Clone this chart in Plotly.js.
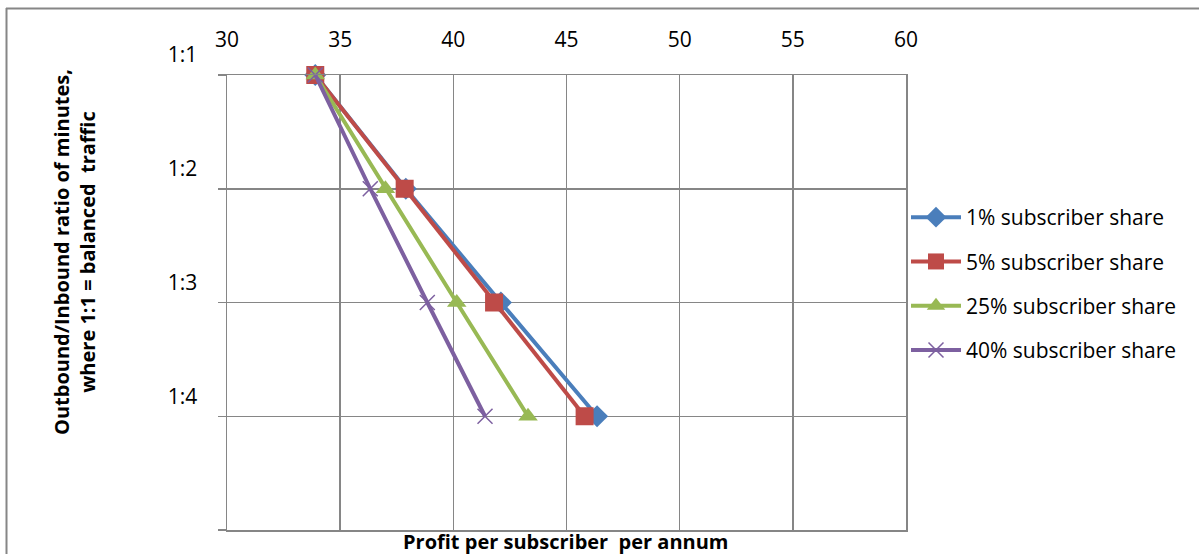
<!DOCTYPE html>
<html>
<head>
<meta charset="utf-8">
<script src="https://cdn.plot.ly/plotly-3.0.1.min.js"></script>
<style>html,body{margin:0;padding:0;background:#fff;}#chart{width:1199px;height:554px;}</style>
</head>
<body>
<div id="chart"></div>
<script>
// Data
var ratioLabels = ['1:1', '1:2', '1:3', '1:4'];
var ratioPos = [1, 2, 3, 4];
var seriesNames = ['1% subscriber share', '5% subscriber share', '25% subscriber share', '40% subscriber share'];
var share1 = [33.9, 37.9, 42.1, 46.35];
var share5 = [33.9, 37.85, 41.8, 45.8];
var share25 = [33.9, 37.0, 40.15, 43.3];
var share40 = [33.9, 36.33, 38.85, 41.4];
var xTicks = [30, 35, 40, 45, 50, 55, 60];

var W = 1199, H = 554;
var L = 227, R = 906, T = 75, B = 530;
function px(x) { return (x - L) / (R - L); }
function py(y) { return (B - y) / (B - T); }

var FONT = '"Open Sans", sans-serif';
var GRID = '#868686';

var colors = ['#4A7EBB', '#BE4B48', '#98B954', '#7D60A0'];
var symbols = ['diamond', 'square', 'triangle-up', 'x-thin-open'];
var sizes = [17, 18, 17, 15];
var vals = [share1, share5, share25, share40];

var traces = vals.map(function (v, i) {
  return {
    x: v, y: ratioPos, name: seriesNames[i], type: 'scatter', mode: 'lines+markers',
    legendgroup: 'g' + i,
    line: {color: colors[i], width: 4},
    marker: {symbol: symbols[i], size: sizes[i], color: colors[i],
             line: {color: colors[i], width: i === 3 ? 1.5 : 0}},
    cliponaxis: false
  };
});

var layout = {
  width: W, height: H,
  margin: {l: L, r: W - R, t: T, b: H - B, pad: 0},
  paper_bgcolor: '#fff', plot_bgcolor: '#fff',
  font: {family: FONT, size: 20, color: '#000'},
  showlegend: true,
  legend: {x: px(906), y: py(197), xanchor: 'left', yanchor: 'top',
           font: {family: FONT, size: 21, color: '#000'}, tracegroupgap: 14,
           itemwidth: 50, bgcolor: 'rgba(0,0,0,0)'},
  xaxis: {
    side: 'top', range: [30, 60], tickvals: xTicks, ticks: '',
    showgrid: true, gridcolor: GRID, gridwidth: 1.5,
    showline: true, linecolor: GRID, linewidth: 1.5, mirror: true,
    zeroline: false, tickfont: {family: FONT, size: 21}, ticklabelstandoff: 18
  },
  yaxis: {
    range: [5, 1], tickvals: [1, 2, 3, 4, 5], ticktext: ratioLabels.concat(['']),
    ticks: 'outside', ticklen: 8, tickcolor: GRID, tickwidth: 1.5,
    showgrid: true, gridcolor: GRID, gridwidth: 1.5,
    showline: true, linecolor: GRID, linewidth: 1.5, mirror: true,
    zeroline: false, tickfont: {family: FONT, size: 21},
    ticklabelstandoff: 16, ticklabelshift: 20
  },
  annotations: [
    {text: '<b>Profit per subscriber  per annum</b>', xref: 'paper', yref: 'paper',
     x: px(566), y: py(541), xanchor: 'center', yanchor: 'middle', showarrow: false,
     font: {family: FONT, size: 20, color: '#000'}},
    {text: '<b>Outbound/Inbound ratio of minutes,<br>where 1:1 = balanced  traffic</b>',
     xref: 'paper', yref: 'paper', x: px(75), y: py(252), xanchor: 'center', yanchor: 'middle',
     textangle: -90, showarrow: false, font: {family: FONT, size: 20, color: '#000'}}
  ],
  shapes: [
    {type: 'line', xref: 'paper', yref: 'paper', x0: px(6), x1: px(1199), y0: py(8.5), y1: py(8.5),
     line: {color: GRID, width: 2}},
    {type: 'line', xref: 'paper', yref: 'paper', x0: px(6.5), x1: px(6.5), y0: py(8), y1: py(554),
     line: {color: GRID, width: 2}}
  ]
};

Plotly.newPlot('chart', traces, layout, {displayModeBar: false, staticPlot: true});
</script>
</body>
</html>
